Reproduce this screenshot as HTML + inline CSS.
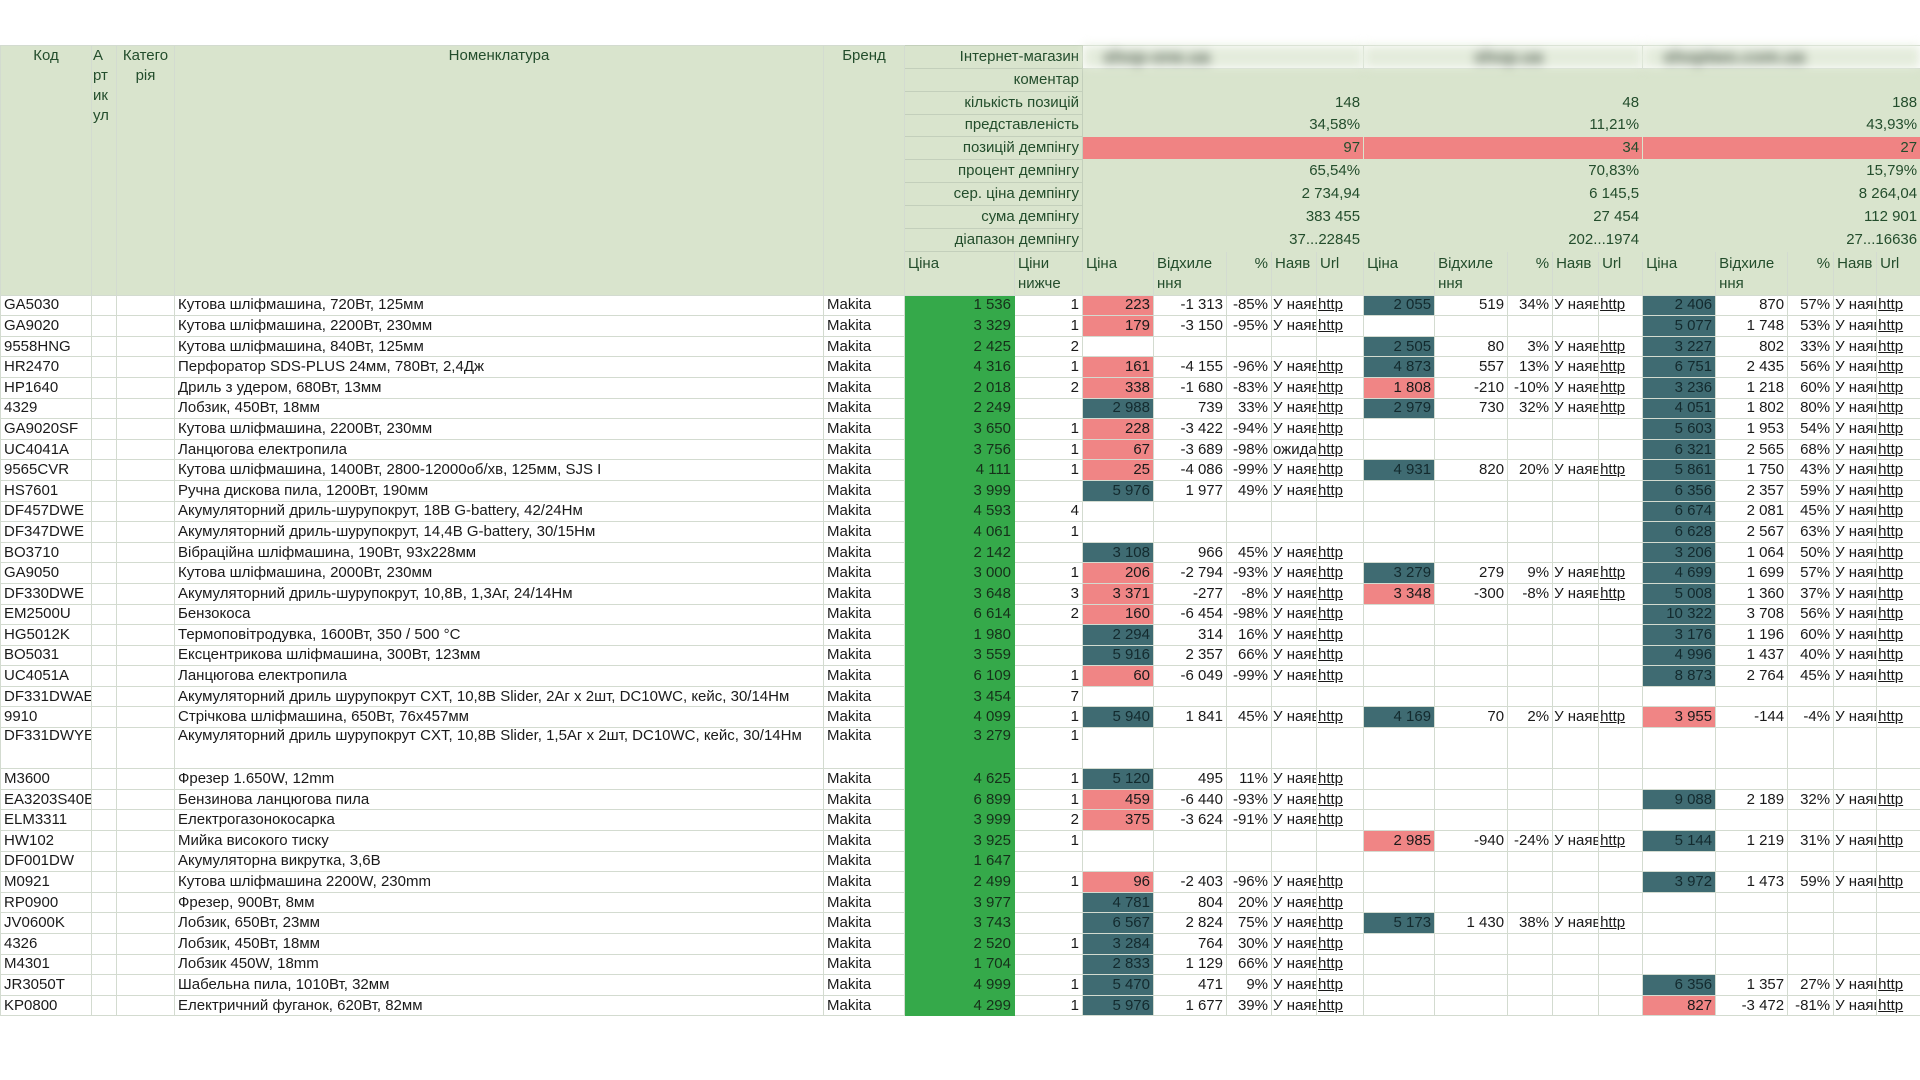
<!DOCTYPE html>
<html><head><meta charset="utf-8"><style>
body{margin:0;background:#fff;width:1920px;height:1080px;overflow:hidden;font-family:"Liberation Sans",Arial,sans-serif;}
table{position:absolute;left:0;top:45px;width:1920px;table-layout:fixed;border-collapse:collapse;font-size:15px;color:#1a1a1a}
td{border:1px solid #d3dbd0;padding:0 3px;white-space:nowrap;overflow:hidden;height:19.6px;line-height:16px;vertical-align:middle}
.h td{background:#d9e4cd;color:#234d2c;height:21.85px;font-size:15px}
.h td.l{text-align:right;border-color:#c3cfbb}
.h td.v{text-align:right;border-color:#d9e4cd;border-left:1px solid #c3cfbb}
.h td.p{background:#f08383}
.h td.bl{filter:blur(5px);color:#5a665a;text-align:left;padding-left:20px;font-size:18px;font-weight:bold;background:#e4ecdc}
.h td.top{vertical-align:top;padding-top:2px}
.h td.w{white-space:normal;line-height:20px}
.s td{height:41px;vertical-align:top;line-height:20px;white-space:normal;padding-top:2px}
.n{text-align:right}
.g{background:#35a94a;text-align:right;color:#16301a;border-color:#35a94a}
.r{background:#f08585;text-align:right}
.t{background:#3f6b72;text-align:right;color:#132a2e}
.u{text-decoration:underline;padding:0 1px}
.a{padding:0 1px}
</style></head><body>
<table>
<colgroup><col style="width:91px"><col style="width:25px"><col style="width:58px"><col style="width:649px"><col style="width:81px"><col style="width:110px"><col style="width:68px"><col style="width:71px"><col style="width:73px"><col style="width:45px"><col style="width:45px"><col style="width:47px"><col style="width:71px"><col style="width:73px"><col style="width:45px"><col style="width:46px"><col style="width:44px"><col style="width:73px"><col style="width:72px"><col style="width:46px"><col style="width:43px"><col style="width:44px"></colgroup>
<tr class="h"><td rowspan="10" class="top" style="text-align:center">Код</td><td rowspan="10" class="top w" style="padding:0 1px">А<br>рт<br>ик<br>ул</td><td rowspan="10" class="top w" style="text-align:center;padding:0">Катего<br>рія</td><td rowspan="10" class="top" style="text-align:center">Номенклатура</td><td rowspan="10" class="top" style="text-align:center">Бренд</td><td colspan="2" class="l">Інтернет-магазин</td><td colspan="5" class="bl">shop-one.ua</td><td colspan="5" class="bl" style="padding-left:110px">shop.ua</td><td colspan="5" class="bl">shoptwo.com.ua</td></tr>
<tr class="h"><td colspan="2" class="l">коментар</td><td colspan="5" class="v"></td><td colspan="5" class="v"></td><td colspan="5" class="v"></td></tr>
<tr class="h"><td colspan="2" class="l">кількість позицій</td><td colspan="5" class="v">148</td><td colspan="5" class="v">48</td><td colspan="5" class="v">188</td></tr>
<tr class="h"><td colspan="2" class="l">представленість</td><td colspan="5" class="v">34,58%</td><td colspan="5" class="v">11,21%</td><td colspan="5" class="v">43,93%</td></tr>
<tr class="h"><td colspan="2" class="l">позицій демпінгу</td><td colspan="5" class="v p">97</td><td colspan="5" class="v p">34</td><td colspan="5" class="v p">27</td></tr>
<tr class="h"><td colspan="2" class="l">процент демпінгу</td><td colspan="5" class="v">65,54%</td><td colspan="5" class="v">70,83%</td><td colspan="5" class="v">15,79%</td></tr>
<tr class="h"><td colspan="2" class="l">сер. ціна демпінгу</td><td colspan="5" class="v">2 734,94</td><td colspan="5" class="v">6 145,5</td><td colspan="5" class="v">8 264,04</td></tr>
<tr class="h"><td colspan="2" class="l">сума демпінгу</td><td colspan="5" class="v">383 455</td><td colspan="5" class="v">27 454</td><td colspan="5" class="v">112 901</td></tr>
<tr class="h"><td colspan="2" class="l">діапазон демпінгу</td><td colspan="5" class="v">37...22845</td><td colspan="5" class="v">202...1974</td><td colspan="5" class="v">27...16636</td></tr>
<tr class="h s"><td>Ціна</td><td>Ціни нижче</td><td>Ціна</td><td>Відхиле ння</td><td class="n">%</td><td>Наяв</td><td>Url</td><td>Ціна</td><td>Відхиле ння</td><td class="n">%</td><td>Наяв</td><td>Url</td><td>Ціна</td><td>Відхиле ння</td><td class="n">%</td><td>Наяв</td><td>Url</td></tr>

<tr><td>GA5030</td><td></td><td></td><td>Кутова шліфмашина, 720Вт, 125мм</td><td>Makita</td><td class="g">1 536</td><td class="n">1</td><td class="r">223</td><td class="n">-1 313</td><td class="n">-85%</td><td class="a">У наявн</td><td class="u">http</td><td class="t">2 055</td><td class="n">519</td><td class="n">34%</td><td class="a">У наявн</td><td class="u">http</td><td class="t">2 406</td><td class="n">870</td><td class="n">57%</td><td class="a">У наявн</td><td class="u">http</td></tr>
<tr><td>GA9020</td><td></td><td></td><td>Кутова шліфмашина, 2200Вт, 230мм</td><td>Makita</td><td class="g">3 329</td><td class="n">1</td><td class="r">179</td><td class="n">-3 150</td><td class="n">-95%</td><td class="a">У наявн</td><td class="u">http</td><td></td><td></td><td></td><td></td><td></td><td class="t">5 077</td><td class="n">1 748</td><td class="n">53%</td><td class="a">У наявн</td><td class="u">http</td></tr>
<tr><td>9558HNG</td><td></td><td></td><td>Кутова шліфмашина, 840Вт, 125мм</td><td>Makita</td><td class="g">2 425</td><td class="n">2</td><td></td><td></td><td></td><td></td><td></td><td class="t">2 505</td><td class="n">80</td><td class="n">3%</td><td class="a">У наявн</td><td class="u">http</td><td class="t">3 227</td><td class="n">802</td><td class="n">33%</td><td class="a">У наявн</td><td class="u">http</td></tr>
<tr><td>HR2470</td><td></td><td></td><td>Перфоратор SDS-PLUS 24мм, 780Вт, 2,4Дж</td><td>Makita</td><td class="g">4 316</td><td class="n">1</td><td class="r">161</td><td class="n">-4 155</td><td class="n">-96%</td><td class="a">У наявн</td><td class="u">http</td><td class="t">4 873</td><td class="n">557</td><td class="n">13%</td><td class="a">У наявн</td><td class="u">http</td><td class="t">6 751</td><td class="n">2 435</td><td class="n">56%</td><td class="a">У наявн</td><td class="u">http</td></tr>
<tr><td>HP1640</td><td></td><td></td><td>Дриль з удером, 680Вт, 13мм</td><td>Makita</td><td class="g">2 018</td><td class="n">2</td><td class="r">338</td><td class="n">-1 680</td><td class="n">-83%</td><td class="a">У наявн</td><td class="u">http</td><td class="r">1 808</td><td class="n">-210</td><td class="n">-10%</td><td class="a">У наявн</td><td class="u">http</td><td class="t">3 236</td><td class="n">1 218</td><td class="n">60%</td><td class="a">У наявн</td><td class="u">http</td></tr>
<tr><td>4329</td><td></td><td></td><td>Лобзик, 450Вт, 18мм</td><td>Makita</td><td class="g">2 249</td><td class="n"></td><td class="t">2 988</td><td class="n">739</td><td class="n">33%</td><td class="a">У наявн</td><td class="u">http</td><td class="t">2 979</td><td class="n">730</td><td class="n">32%</td><td class="a">У наявн</td><td class="u">http</td><td class="t">4 051</td><td class="n">1 802</td><td class="n">80%</td><td class="a">У наявн</td><td class="u">http</td></tr>
<tr><td>GA9020SF</td><td></td><td></td><td>Кутова шліфмашина, 2200Вт, 230мм</td><td>Makita</td><td class="g">3 650</td><td class="n">1</td><td class="r">228</td><td class="n">-3 422</td><td class="n">-94%</td><td class="a">У наявн</td><td class="u">http</td><td></td><td></td><td></td><td></td><td></td><td class="t">5 603</td><td class="n">1 953</td><td class="n">54%</td><td class="a">У наявн</td><td class="u">http</td></tr>
<tr><td>UC4041A</td><td></td><td></td><td>Ланцюгова електропила</td><td>Makita</td><td class="g">3 756</td><td class="n">1</td><td class="r">67</td><td class="n">-3 689</td><td class="n">-98%</td><td class="a">ожидается</td><td class="u">http</td><td></td><td></td><td></td><td></td><td></td><td class="t">6 321</td><td class="n">2 565</td><td class="n">68%</td><td class="a">У наявн</td><td class="u">http</td></tr>
<tr><td>9565CVR</td><td></td><td></td><td>Кутова шліфмашина, 1400Вт, 2800-12000об/хв, 125мм, SJS I</td><td>Makita</td><td class="g">4 111</td><td class="n">1</td><td class="r">25</td><td class="n">-4 086</td><td class="n">-99%</td><td class="a">У наявн</td><td class="u">http</td><td class="t">4 931</td><td class="n">820</td><td class="n">20%</td><td class="a">У наявн</td><td class="u">http</td><td class="t">5 861</td><td class="n">1 750</td><td class="n">43%</td><td class="a">У наявн</td><td class="u">http</td></tr>
<tr><td>HS7601</td><td></td><td></td><td>Ручна дискова пила, 1200Вт, 190мм</td><td>Makita</td><td class="g">3 999</td><td class="n"></td><td class="t">5 976</td><td class="n">1 977</td><td class="n">49%</td><td class="a">У наявн</td><td class="u">http</td><td></td><td></td><td></td><td></td><td></td><td class="t">6 356</td><td class="n">2 357</td><td class="n">59%</td><td class="a">У наявн</td><td class="u">http</td></tr>
<tr><td>DF457DWE</td><td></td><td></td><td>Акумуляторний дриль-шурупокрут, 18В G-battery, 42/24Нм</td><td>Makita</td><td class="g">4 593</td><td class="n">4</td><td></td><td></td><td></td><td></td><td></td><td></td><td></td><td></td><td></td><td></td><td class="t">6 674</td><td class="n">2 081</td><td class="n">45%</td><td class="a">У наявн</td><td class="u">http</td></tr>
<tr><td>DF347DWE</td><td></td><td></td><td>Акумуляторний дриль-шурупокрут, 14,4В G-battery, 30/15Нм</td><td>Makita</td><td class="g">4 061</td><td class="n">1</td><td></td><td></td><td></td><td></td><td></td><td></td><td></td><td></td><td></td><td></td><td class="t">6 628</td><td class="n">2 567</td><td class="n">63%</td><td class="a">У наявн</td><td class="u">http</td></tr>
<tr><td>BO3710</td><td></td><td></td><td>Вібраційна шліфмашина, 190Вт, 93х228мм</td><td>Makita</td><td class="g">2 142</td><td class="n"></td><td class="t">3 108</td><td class="n">966</td><td class="n">45%</td><td class="a">У наявн</td><td class="u">http</td><td></td><td></td><td></td><td></td><td></td><td class="t">3 206</td><td class="n">1 064</td><td class="n">50%</td><td class="a">У наявн</td><td class="u">http</td></tr>
<tr><td>GA9050</td><td></td><td></td><td>Кутова шліфмашина, 2000Вт, 230мм</td><td>Makita</td><td class="g">3 000</td><td class="n">1</td><td class="r">206</td><td class="n">-2 794</td><td class="n">-93%</td><td class="a">У наявн</td><td class="u">http</td><td class="t">3 279</td><td class="n">279</td><td class="n">9%</td><td class="a">У наявн</td><td class="u">http</td><td class="t">4 699</td><td class="n">1 699</td><td class="n">57%</td><td class="a">У наявн</td><td class="u">http</td></tr>
<tr><td>DF330DWE</td><td></td><td></td><td>Акумуляторний дриль-шурупокрут, 10,8В, 1,3Аг, 24/14Нм</td><td>Makita</td><td class="g">3 648</td><td class="n">3</td><td class="r">3 371</td><td class="n">-277</td><td class="n">-8%</td><td class="a">У наявн</td><td class="u">http</td><td class="r">3 348</td><td class="n">-300</td><td class="n">-8%</td><td class="a">У наявн</td><td class="u">http</td><td class="t">5 008</td><td class="n">1 360</td><td class="n">37%</td><td class="a">У наявн</td><td class="u">http</td></tr>
<tr><td>EM2500U</td><td></td><td></td><td>Бензокоса</td><td>Makita</td><td class="g">6 614</td><td class="n">2</td><td class="r">160</td><td class="n">-6 454</td><td class="n">-98%</td><td class="a">У наявн</td><td class="u">http</td><td></td><td></td><td></td><td></td><td></td><td class="t">10 322</td><td class="n">3 708</td><td class="n">56%</td><td class="a">У наявн</td><td class="u">http</td></tr>
<tr><td>HG5012K</td><td></td><td></td><td>Термоповітродувка, 1600Вт, 350 / 500 °C</td><td>Makita</td><td class="g">1 980</td><td class="n"></td><td class="t">2 294</td><td class="n">314</td><td class="n">16%</td><td class="a">У наявн</td><td class="u">http</td><td></td><td></td><td></td><td></td><td></td><td class="t">3 176</td><td class="n">1 196</td><td class="n">60%</td><td class="a">У наявн</td><td class="u">http</td></tr>
<tr><td>BO5031</td><td></td><td></td><td>Ексцентрикова шліфмашина, 300Вт, 123мм</td><td>Makita</td><td class="g">3 559</td><td class="n"></td><td class="t">5 916</td><td class="n">2 357</td><td class="n">66%</td><td class="a">У наявн</td><td class="u">http</td><td></td><td></td><td></td><td></td><td></td><td class="t">4 996</td><td class="n">1 437</td><td class="n">40%</td><td class="a">У наявн</td><td class="u">http</td></tr>
<tr><td>UC4051A</td><td></td><td></td><td>Ланцюгова електропила</td><td>Makita</td><td class="g">6 109</td><td class="n">1</td><td class="r">60</td><td class="n">-6 049</td><td class="n">-99%</td><td class="a">У наявн</td><td class="u">http</td><td></td><td></td><td></td><td></td><td></td><td class="t">8 873</td><td class="n">2 764</td><td class="n">45%</td><td class="a">У наявн</td><td class="u">http</td></tr>
<tr><td>DF331DWAE</td><td></td><td></td><td>Акумуляторний дриль шурупокрут CXT, 10,8В Slider, 2Аг х 2шт, DC10WC, кейс, 30/14Нм</td><td>Makita</td><td class="g">3 454</td><td class="n">7</td><td></td><td></td><td></td><td></td><td></td><td></td><td></td><td></td><td></td><td></td><td></td><td></td><td></td><td></td><td></td></tr>
<tr><td>9910</td><td></td><td></td><td>Стрічкова шліфмашина, 650Вт, 76х457мм</td><td>Makita</td><td class="g">4 099</td><td class="n">1</td><td class="t">5 940</td><td class="n">1 841</td><td class="n">45%</td><td class="a">У наявн</td><td class="u">http</td><td class="t">4 169</td><td class="n">70</td><td class="n">2%</td><td class="a">У наявн</td><td class="u">http</td><td class="r">3 955</td><td class="n">-144</td><td class="n">-4%</td><td class="a">У наявн</td><td class="u">http</td></tr>
<tr><td style="vertical-align:top;height:40.2px">DF331DWYE</td><td></td><td></td><td style="vertical-align:top">Акумуляторний дриль шурупокрут CXT, 10,8В Slider, 1,5Аг х 2шт, DC10WC, кейс, 30/14Нм</td><td style="vertical-align:top">Makita</td><td class="g" style="vertical-align:top">3 279</td><td class="n" style="vertical-align:top">1</td><td></td><td></td><td></td><td></td><td></td><td></td><td></td><td></td><td></td><td></td><td></td><td></td><td></td><td></td><td></td></tr>
<tr><td>M3600</td><td></td><td></td><td>Фрезер 1.650W, 12mm</td><td>Makita</td><td class="g">4 625</td><td class="n">1</td><td class="t">5 120</td><td class="n">495</td><td class="n">11%</td><td class="a">У наявн</td><td class="u">http</td><td></td><td></td><td></td><td></td><td></td><td></td><td></td><td></td><td></td><td></td></tr>
<tr><td>EA3203S40B</td><td></td><td></td><td>Бензинова ланцюгова пила</td><td>Makita</td><td class="g">6 899</td><td class="n">1</td><td class="r">459</td><td class="n">-6 440</td><td class="n">-93%</td><td class="a">У наявн</td><td class="u">http</td><td></td><td></td><td></td><td></td><td></td><td class="t">9 088</td><td class="n">2 189</td><td class="n">32%</td><td class="a">У наявн</td><td class="u">http</td></tr>
<tr><td>ELM3311</td><td></td><td></td><td>Електрогазонокосарка</td><td>Makita</td><td class="g">3 999</td><td class="n">2</td><td class="r">375</td><td class="n">-3 624</td><td class="n">-91%</td><td class="a">У наявн</td><td class="u">http</td><td></td><td></td><td></td><td></td><td></td><td></td><td></td><td></td><td></td><td></td></tr>
<tr><td>HW102</td><td></td><td></td><td>Мийка високого тиску</td><td>Makita</td><td class="g">3 925</td><td class="n">1</td><td></td><td></td><td></td><td></td><td></td><td class="r">2 985</td><td class="n">-940</td><td class="n">-24%</td><td class="a">У наявн</td><td class="u">http</td><td class="t">5 144</td><td class="n">1 219</td><td class="n">31%</td><td class="a">У наявн</td><td class="u">http</td></tr>
<tr><td>DF001DW</td><td></td><td></td><td>Акумуляторна викрутка, 3,6В</td><td>Makita</td><td class="g">1 647</td><td class="n"></td><td></td><td></td><td></td><td></td><td></td><td></td><td></td><td></td><td></td><td></td><td></td><td></td><td></td><td></td><td></td></tr>
<tr><td>M0921</td><td></td><td></td><td>Кутова шліфмашина 2200W, 230mm</td><td>Makita</td><td class="g">2 499</td><td class="n">1</td><td class="r">96</td><td class="n">-2 403</td><td class="n">-96%</td><td class="a">У наявн</td><td class="u">http</td><td></td><td></td><td></td><td></td><td></td><td class="t">3 972</td><td class="n">1 473</td><td class="n">59%</td><td class="a">У наявн</td><td class="u">http</td></tr>
<tr><td>RP0900</td><td></td><td></td><td>Фрезер, 900Вт, 8мм</td><td>Makita</td><td class="g">3 977</td><td class="n"></td><td class="t">4 781</td><td class="n">804</td><td class="n">20%</td><td class="a">У наявн</td><td class="u">http</td><td></td><td></td><td></td><td></td><td></td><td></td><td></td><td></td><td></td><td></td></tr>
<tr><td>JV0600K</td><td></td><td></td><td>Лобзик, 650Вт, 23мм</td><td>Makita</td><td class="g">3 743</td><td class="n"></td><td class="t">6 567</td><td class="n">2 824</td><td class="n">75%</td><td class="a">У наявн</td><td class="u">http</td><td class="t">5 173</td><td class="n">1 430</td><td class="n">38%</td><td class="a">У наявн</td><td class="u">http</td><td></td><td></td><td></td><td></td><td></td></tr>
<tr><td>4326</td><td></td><td></td><td>Лобзик, 450Вт, 18мм</td><td>Makita</td><td class="g">2 520</td><td class="n">1</td><td class="t">3 284</td><td class="n">764</td><td class="n">30%</td><td class="a">У наявн</td><td class="u">http</td><td></td><td></td><td></td><td></td><td></td><td></td><td></td><td></td><td></td><td></td></tr>
<tr><td>M4301</td><td></td><td></td><td>Лобзик 450W, 18mm</td><td>Makita</td><td class="g">1 704</td><td class="n"></td><td class="t">2 833</td><td class="n">1 129</td><td class="n">66%</td><td class="a">У наявн</td><td class="u">http</td><td></td><td></td><td></td><td></td><td></td><td></td><td></td><td></td><td></td><td></td></tr>
<tr><td>JR3050T</td><td></td><td></td><td>Шабельна пила, 1010Вт, 32мм</td><td>Makita</td><td class="g">4 999</td><td class="n">1</td><td class="t">5 470</td><td class="n">471</td><td class="n">9%</td><td class="a">У наявн</td><td class="u">http</td><td></td><td></td><td></td><td></td><td></td><td class="t">6 356</td><td class="n">1 357</td><td class="n">27%</td><td class="a">У наявн</td><td class="u">http</td></tr>
<tr><td>KP0800</td><td></td><td></td><td>Електричний фуганок, 620Вт, 82мм</td><td>Makita</td><td class="g">4 299</td><td class="n">1</td><td class="t">5 976</td><td class="n">1 677</td><td class="n">39%</td><td class="a">У наявн</td><td class="u">http</td><td></td><td></td><td></td><td></td><td></td><td class="r">827</td><td class="n">-3 472</td><td class="n">-81%</td><td class="a">У наявн</td><td class="u">http</td></tr>
</table>
</body></html>
